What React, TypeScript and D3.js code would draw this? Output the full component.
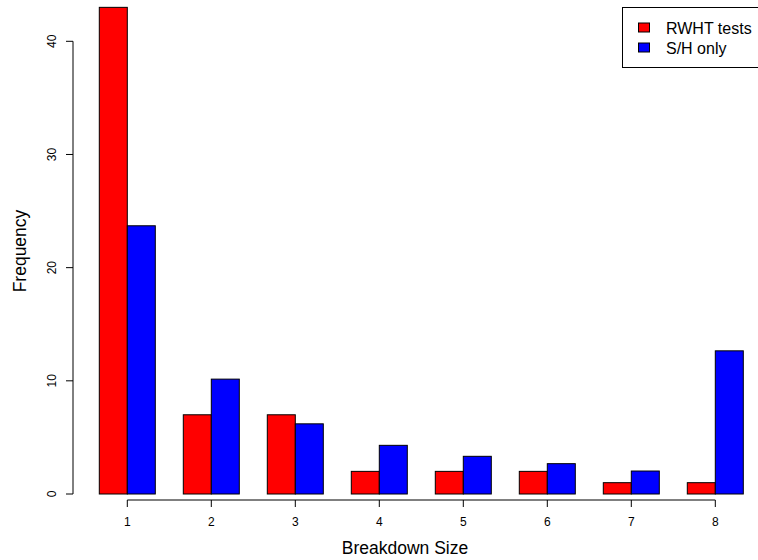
import React from "react";
import * as d3 from "d3";

const categories = ["1", "2", "3", "4", "5", "6", "7", "8"];
const rwhtValues = [43, 7, 7, 2, 2, 2, 1, 1];
const shValues = [23.7, 10.15, 6.2, 4.3, 3.33, 2.68, 2.03, 12.65];
const seriesNames = ["RWHT tests", "S/H only"];
const seriesColors = ["#FF0000", "#0000FF"];
const yTicks = [0, 10, 20, 30, 40];

const W = 758;
const H = 560;

export default function App() {
  // bar units (R barplot: width 1, space c(0,1))
  const x = d3.scaleLinear().domain([1, 24]).range([99.3, 743.3]);
  const y = d3.scaleLinear().domain([0, 40]).range([494, 41.3]);
  const font = "'Liberation Sans', Arial, Helvetica, sans-serif";
  const axisX = 73;
  const axisY = 500;

  const bars: { x0: number; x1: number; v: number; c: string }[] = [];
  categories.forEach((_, g) => {
    const start = 3 * g + 1;
    bars.push({ x0: x(start), x1: x(start + 1), v: rwhtValues[g], c: seriesColors[0] });
    bars.push({ x0: x(start + 1), x1: x(start + 2), v: shValues[g], c: seriesColors[1] });
  });
  const centers = categories.map((_, g) => x(3 * g + 2));

  return (
    <svg
      width={W}
      height={H}
      style={{ position: "fixed", left: 0, top: 0, background: "#fff" }}
      fontFamily={font}
    >
      <rect x={0} y={0} width={W} height={H} fill="#fff" />
      {bars.map((b, i) => (
        <rect
          key={i}
          x={b.x0}
          y={y(b.v)}
          width={b.x1 - b.x0}
          height={y(0) - y(b.v)}
          fill={b.c}
          stroke="#000"
          strokeWidth={1}
        />
      ))}
      {/* y axis */}
      <line x1={axisX} x2={axisX} y1={y(40)} y2={y(0)} stroke="#000" strokeWidth={1} />
      {yTicks.map((t) => (
        <g key={t}>
          <line x1={axisX - 7} x2={axisX} y1={y(t)} y2={y(t)} stroke="#000" strokeWidth={1} />
          <text
            transform={`translate(56,${y(t)}) rotate(-90)`}
            textAnchor="middle"
            fontSize={12}
            fill="#000"
          >
            {t}
          </text>
        </g>
      ))}
      {/* x axis */}
      <line x1={centers[0]} x2={centers[centers.length - 1]} y1={axisY} y2={axisY} stroke="#000" strokeWidth={1} />
      {centers.map((c, i) => (
        <g key={i}>
          <line x1={c} x2={c} y1={axisY} y2={axisY + 7} stroke="#000" strokeWidth={1} />
          <text x={c} y={526} textAnchor="middle" fontSize={12} fill="#000">
            {categories[i]}
          </text>
        </g>
      ))}
      <text x={405} y={554} textAnchor="middle" fontSize={17.5} fill="#000">
        Breakdown Size
      </text>
      <text
        transform={`translate(26,251) rotate(-90)`}
        textAnchor="middle"
        fontSize={17.5}
        fill="#000"
      >
        Frequency
      </text>
      {/* legend */}
      <rect x={622.5} y={7.5} width={150} height={60} fill="#fff" stroke="#000" strokeWidth={1} />
      {seriesNames.map((n, i) => (
        <g key={n}>
          <rect x={638.5} y={23 + i * 20} width={11} height={9} fill={seriesColors[i]} stroke="#000" strokeWidth={1} />
          <text x={666} y={33.5 + i * 20} fontSize={16} fill="#000">
            {n}
          </text>
        </g>
      ))}
    </svg>
  );
}
